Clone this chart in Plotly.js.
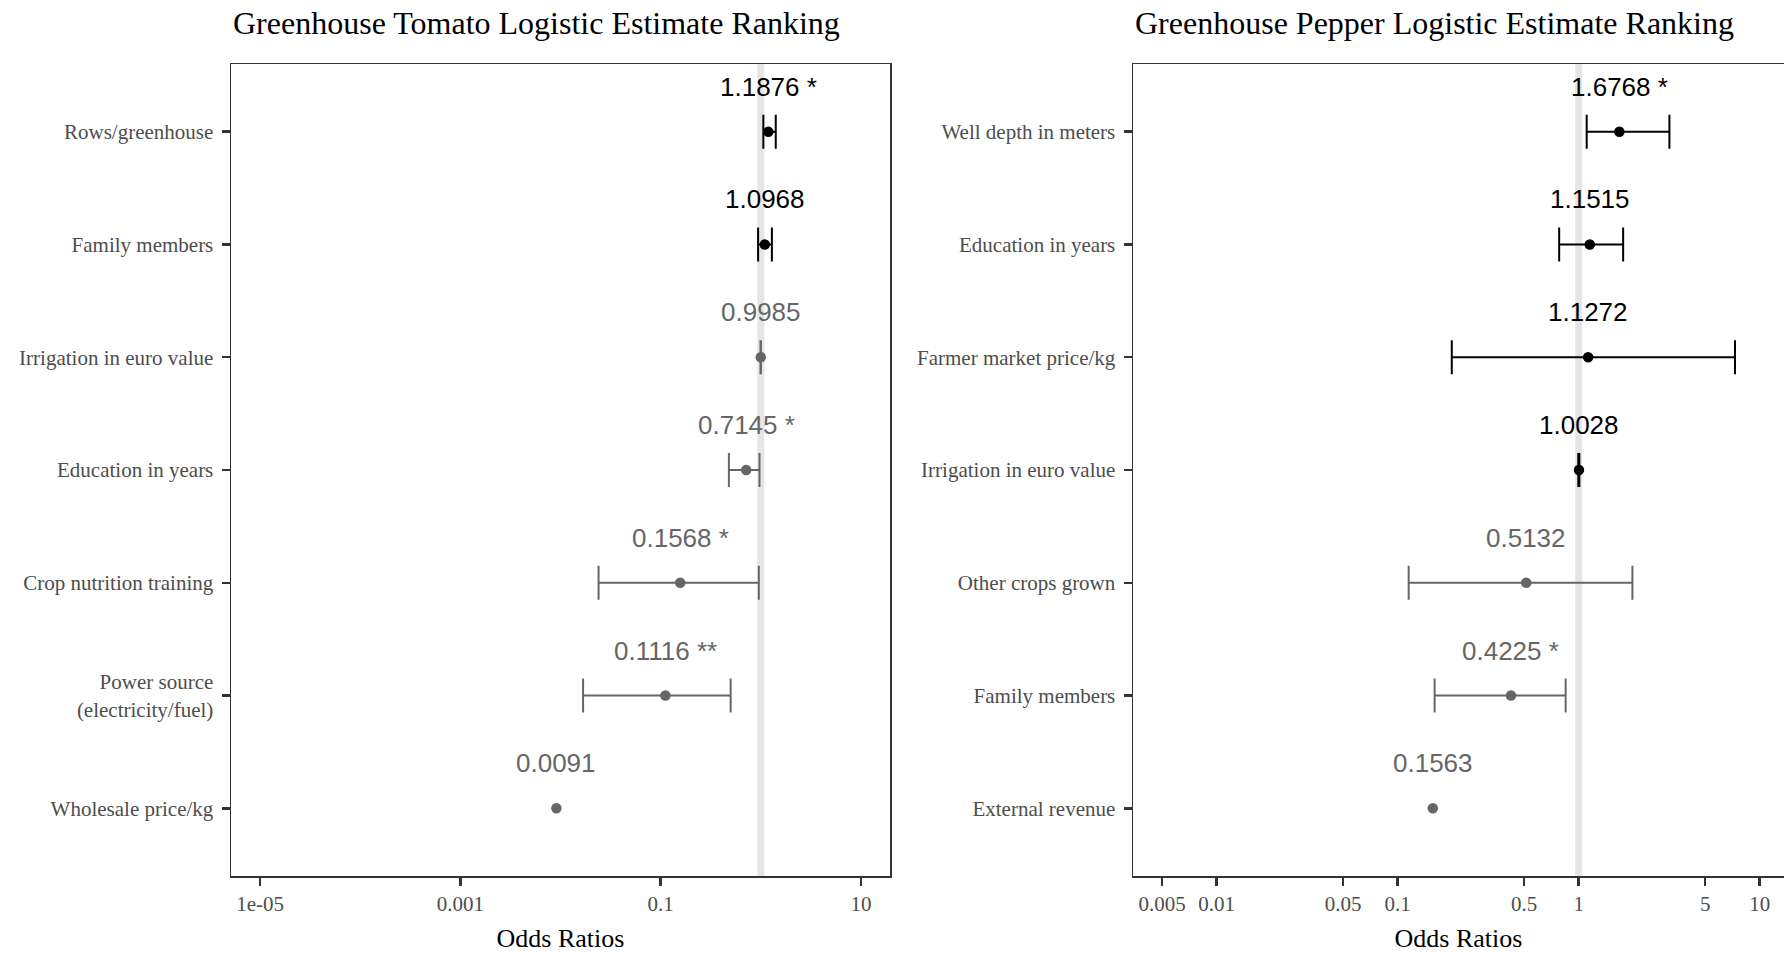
<!DOCTYPE html>
<html>
<head>
<meta charset="utf-8">
<script src="https://cdn.plot.ly/plotly-3.0.1.min.js"></script>
<style>html,body{margin:0;padding:0;background:#fff;}#chart{width:1784px;height:953px;}</style>
</head>
<body>
<div id="chart"></div>
<script>
// ---- Data ----
const tomatoTitle = "Greenhouse Tomato Logistic Estimate Ranking";
const tomatoVars = ["Rows/greenhouse", "Family members", "Irrigation in euro value", "Education in years",
  "Crop nutrition training", "Power source<br>(electricity/fuel)", "Wholesale price/kg"];
const tomatoOR  = [1.1876, 1.0968, 0.9985, 0.7145, 0.1568, 0.1116, 0.0091];
const tomatoLo  = [1.06, 0.94, 0.993, 0.48, 0.024, 0.0168, null];
const tomatoHi  = [1.41, 1.29, 1.003, 0.97, 0.955, 0.50, null];
const tomatoSig = ["*", "", "", "*", "*", "**", ""];
const tomatoTickVals = [1e-5, 0.001, 0.1, 10];
const tomatoTickText = ["1e-05", "0.001", "0.1", "10"];

const pepperTitle = "Greenhouse Pepper Logistic Estimate Ranking";
const pepperVars = ["Well depth in meters", "Education in years", "Farmer market price/kg", "Irrigation in euro value",
  "Other crops grown", "Family members", "External revenue"];
const pepperOR  = [1.6768, 1.1515, 1.1272, 1.0028, 0.5132, 0.4225, 0.1563];
const pepperLo  = [1.107, 0.78, 0.199, 0.995, 0.115, 0.16, null];
const pepperHi  = [3.17, 1.76, 7.3, 1.008, 1.98, 0.847, null];
const pepperSig = ["*", "", "", "", "", "*", ""];
const pepperTickVals = [0.005, 0.01, 0.05, 0.1, 0.5, 1, 5, 10];
const pepperTickText = ["0.005", "0.01", "0.05", "0.1", "0.5", "1", "5", "10"];

const xTitle = "Odds Ratios";

// ---- Style ----
const POS = "#000000", NEG = "#666666";
const SERIF = "Liberation Serif, Times New Roman, serif";
const SANS = "Liberation Sans, Arial, sans-serif";
const W = 1784, H = 953;

const traces = [];
const annotations = [];
const shapes = [];

function panel(vars, ors, lo, hi, sig, xa, ya) {
  vars.forEach((v, i) => {
    const col = ors[i] > 1 ? POS : NEG;
    const t = {
      type: "scatter", mode: "markers", x: [ors[i]], y: [v], xaxis: xa, yaxis: ya,
      marker: {color: col, size: 10.5}, showlegend: false, hoverinfo: "x+y"
    };
    if (lo[i] !== null && hi[i] !== null) {
      t.error_x = {type: "data", symmetric: false, array: [hi[i] - ors[i]], arrayminus: [ors[i] - lo[i]],
        color: col, thickness: 2, width: 17};
    }
    traces.push(t);
    annotations.push({
      xref: xa, yref: ya, x: Math.log10(ors[i]), y: v, yshift: 45, showarrow: false,
      text: ors[i].toFixed(4) + (sig[i] ? " " + sig[i] : ""),
      font: {family: SANS, size: 26, color: col}, xanchor: "center", yanchor: "middle"
    });
  });
  shapes.push({type: "line", xref: xa, yref: ya + " domain", x0: 1, x1: 1, y0: 0, y1: 1,
    line: {color: "#E5E5E5", width: 7}, layer: "below"});
}
panel(tomatoVars, tomatoOR, tomatoLo, tomatoHi, tomatoSig, "x", "y");
panel(pepperVars, pepperOR, pepperLo, pepperHi, pepperSig, "x2", "y2");

const yTop = 1 - 64 / H, yBot = 1 - 876 / H;

annotations.push({xref: "paper", yref: "paper", x: 231 / W, y: 1 - 23 / H, xanchor: "left", yanchor: "middle",
  showarrow: false, text: tomatoTitle, font: {family: SERIF, size: 32, color: "#000"}});
annotations.push({xref: "paper", yref: "paper", x: 1133 / W, y: 1 - 23 / H, xanchor: "left", yanchor: "middle",
  showarrow: false, text: pepperTitle, font: {family: SERIF, size: 32, color: "#000"}});

function xaxis(domain, range, tv, tt, mirror) {
  return {
    type: "log", domain: domain, range: range, tickvals: tv, ticktext: tt,
    showgrid: false, zeroline: false, showline: true, mirror: mirror, linecolor: "#333333", linewidth: 1.5,
    ticks: "outside", ticklen: 8, tickwidth: 2.5, tickcolor: "#333333",
    tickfont: {family: SERIF, size: 21, color: "#4D4D4D"},
    title: {text: xTitle, font: {family: SERIF, size: 26, color: "#000"}, standoff: 14},
    automargin: false, fixedrange: true
  };
}
function yaxis(vars, mirror, anchor) {
  return {
    type: "category", categoryarray: vars, categoryorder: "array", range: [vars.length - 0.4, -0.6],
    domain: [yBot, yTop], anchor: anchor,
    showgrid: false, zeroline: false, showline: true, mirror: mirror, linecolor: "#333333", linewidth: 1.5,
    ticks: "outside", ticklen: 8, tickwidth: 2.5, tickcolor: "#333333", ticklabelstandoff: 4,
    tickfont: {family: SERIF, size: 21, color: "#4D4D4D"}, automargin: false, fixedrange: true
  };
}

const layout = {
  width: W, height: H, margin: {l: 0, r: 0, t: 0, b: 0},
  paper_bgcolor: "#fff", plot_bgcolor: "#fff", showlegend: false,
  xaxis: Object.assign(xaxis([231 / W, 890 / W], [-5.29, 1.29], tomatoTickVals, tomatoTickText, true), {anchor: "y"}),
  yaxis: yaxis(tomatoVars, true, "x"),
  xaxis2: Object.assign(xaxis([1133 / W, 1], [-2.462, 1.134], pepperTickVals, pepperTickText, true), {anchor: "y2"}),
  yaxis2: yaxis(pepperVars, false, "x2"),
  annotations: annotations, shapes: shapes
};

Plotly.newPlot("chart", traces, layout, {displayModeBar: false, staticPlot: true});
</script>
</body>
</html>
